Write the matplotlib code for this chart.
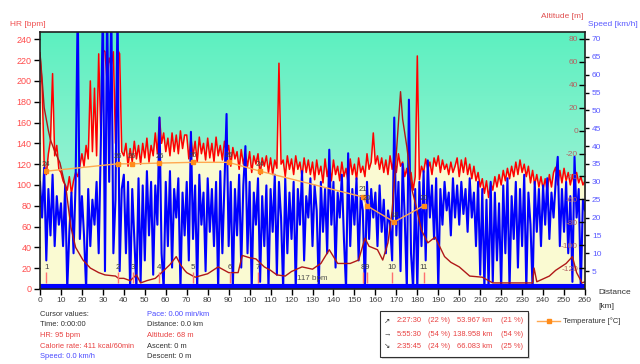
import numpy as np
import matplotlib.pyplot as plt
from matplotlib.colors import LinearSegmentedColormap
from matplotlib.lines import Line2D
from matplotlib.patches import Rectangle

plt.rcParams['font.family'] = ['Liberation Sans', 'DejaVu Sans']
plt.rcParams['axes.unicode_minus'] = False

# distance grid (km) for heart rate and speed samples
km = np.arange(0, 261)

hr = [225, 196, 120, 110, 130, 143, 207, 128, 138, 115,
      112, 104, 100, 95, 108, 92, 104, 112, 108, 118,
      130, 118, 138, 125, 200, 132, 193, 128, 226, 150,
      230, 228, 200, 222, 215, 228, 140, 230, 226, 132,
      128, 140, 118, 135, 122, 142, 125, 138, 120, 140,
      126, 145, 122, 138, 128, 150, 130, 165, 140, 150,
      132, 145, 128, 150, 132, 148, 130, 152, 135, 148,
      148, 125, 145, 128, 142, 122, 146, 130, 140, 124,
      145, 126, 140, 122, 146, 128, 138, 124, 142, 130,
      138, 118, 136, 125, 132, 115, 134, 120, 130, 118,
      132, 112, 128, 120, 130, 110, 126, 118, 128, 112,
      126, 110, 124, 116, 217, 120, 124, 108, 128, 115,
      125, 110, 128, 115, 122, 108, 126, 112, 124, 110,
      122, 105, 124, 110, 118, 102, 125, 108, 120, 104,
      124, 110, 118, 104, 122, 108, 116, 102, 125, 110,
      120, 105, 126, 112, 118, 108, 130, 115, 122, 150,
      120, 128, 115, 126, 112, 124, 110, 128, 115, 126,
      112, 130, 118, 122, 108, 116, 100, 112, 95, 108,
      224, 105, 118, 112, 125, 115, 122, 110, 126, 118,
      128, 112, 124, 115, 120, 110, 122, 112, 118, 126,
      108, 124, 112, 126, 110, 120, 106, 118, 104, 112,
      98, 106, 92, 104, 88, 102, 95, 108, 98, 110,
      100, 114, 104, 116, 106, 118, 108, 122, 110, 124,
      112, 120, 108, 118, 102, 114, 100, 110, 98, 108,
      96, 106, 94, 110, 98, 112, 117, 100, 114, 102,
      116, 104, 112, 100, 110, 98, 112, 102, 108, 100,
      104]

speed = [30, 20, 34, 8, 28, 15, 32, 12, 26, 18,
         24, 12, 29, 0, 16, 27, 10, 30, 80, 14,
         26, 15, 0, 28, 12, 25, 18, 30, 10, 40,
         80, 5, 80, 30, 80, 10, 25, 80, 5, 28,
         32, 10, 30, 0, 28, 14, 0, 31, 2, 29,
         8, 33, 15, 30, 4, 29, 18, 48, 10, 0,
         30, 12, 33, 6, 28, 20, 31, 0, 27, 15,
         30, 8, 44, 14, 29, 0, 32, 18, 27, 5,
         31, 16, 28, 12, 30, 0, 33, 10, 29, 49,
         12, 30, 0, 28, 15, 32, 6, 29, 40, 10,
         30, 0, 27, 18, 31, 2, 26, 12, 29, 0,
         28, 16, 32, 4, 30, 20, 0, 31, 10, 27,
         14, 30, 0, 28, 18, 33, 8, 26, 20, 31,
         12, 29, 22, 0, 30, 16, 28, 10, 39, 18,
         30, 6, 27, 20, 32, 14, 0, 38, 12, 28,
         18, 31, 8, 26, 22, 0, 30, 14, 28, 20,
         27, 12, 29, 16, 25, 10, 22, 18, 8, 48,
         15, 30, 5, 35, 20, 0, 53, 10, 0, 28,
         0, 30, 12, 33, 8, 36, 20, 29, 14, 31,
         0, 28, 18, 30, 22, 27, 15, 31, 20, 29,
         18, 30, 21, 28, 16, 31, 20, 27, 12, 30,
         4, 28, 0, 25, 0, 30, 2, 27, 8, 24,
         0, 29, 10, 31, 0, 26, 14, 30, 6, 28,
         12, 32, 0, 27, 18, 0, 30, 16, 28, 12,
         29, 18, 31, 14, 27, 20, 30, 37, 12, 28,
         16, 30, 10, 26, 2, 37, 20, 28, 0, 25,
         22]

alt_km = [0, 1, 2, 4, 5, 7, 9.5, 11, 12.5, 14.7,
          17, 20.5, 24, 28, 31, 36, 37.5, 40, 43, 46,
          48, 51, 55, 58, 62, 65, 67, 69, 70, 74,
          80, 85, 90, 94.5, 96.5, 100, 103, 107, 110, 113,
          117, 120, 125, 130, 134, 138, 142, 148, 152, 155,
          157, 161, 163.5, 166, 168, 170, 172, 173, 175, 177.5,
          179, 182, 185, 188.5, 193, 196, 200, 205, 211, 216,
          227, 235, 235.7, 237, 243, 246, 251, 254, 256, 258.6,
          260]
alt_m = [68, 45, 20, 0, -8, -18, -28, -40, -52, -84,
         -102, -113, -120, -124, -126, -127, -129, -129, -131, -126,
         -133, -131, -129, -124, -117, -110, -117, -122, -124, -128,
         -125, -119, -124, -124, -109, -111, -112, -119, -122, -126,
         -127, -123, -119, -121, -116, -104, -116, -116, -113, -94,
         -101, -104, -113, -98, -70, -20, 34, 10, -14, -52,
         -63, -87, -98, -93, -110, -115, -119, -127, -128, -133,
         -133, -133, -120, -132, -127, -122, -116, -110, -124, -133,
         -132]

temp_km = [3, 37, 44, 57, 73, 90, 105, 154, 156, 169, 183]
temp_c = [24.9, 25.9, 25.9, 26.0, 26.1, 26.1, 24.9, 21.4, 20.2, 18.0, 20.2]
temp_labels = ['24', '26', '26', '26', '26', '26', '24', '21', '20', '18', '20']

lap_km = [3, 37, 44.5, 57, 73, 90.5, 104, 154, 156, 168, 183]
lap_labels = ['1', '2', '3', '4', '5', '6', '7', '8', '9', '10', '11']

hr_ticks = list(range(0, 241, 20))
alt_ticks = list(range(-120, 81, 20))
speed_ticks = list(range(5, 71, 5))
dist_ticks = list(range(0, 261, 10))

RED = '#ff0000'
BLUE = '#0000ff'
DARK = '#303030'
TXT_RED = '#e84040'
TXT_BLUE = '#4848ff'

fig = plt.figure(figsize=(6.4, 3.64), dpi=100)
ax = fig.add_axes([40 / 640, 75 / 364, 545 / 640, 257 / 364])

# background gradient + yellow area under heart rate
grad = np.linspace(0, 1, 256).reshape(-1, 1)
bg = LinearSegmentedColormap.from_list('bg', ['#b8f4de', '#8ef2d0', '#5cf0c0'])
ax.imshow(grad, cmap=bg, extent=[0, 260, 0, 247], aspect='auto', origin='lower', zorder=0)
ax.fill_between(km, hr, 0, color='#fafad2', lw=0, zorder=1)
ax.plot(km, hr, color=RED, lw=1.1, zorder=2)
ax.set_xlim(0, 260)
ax.set_ylim(0, 247)
ax.set_xticks(dist_ticks)
ax.set_yticks(hr_ticks)
ax.tick_params(axis='x', length=4, width=1, pad=2, labelsize=6, labelcolor='#404040')
ax.tick_params(axis='y', length=4, width=1, pad=2, labelsize=6.5, labelcolor='#ff4c4c')
for sp in ax.spines.values():
    sp.set_visible(False)

# speed
ax_spd = ax.twinx()
ax_spd.plot(km, speed, color=BLUE, lw=1.5)
ax_spd.axhline(0, color=BLUE, lw=8)
ax_spd.set_xlim(0, 260)
ax_spd.set_ylim(0, 71.95)
ax_spd.set_yticks(speed_ticks)
ax_spd.tick_params(axis='y', length=3, width=1, pad=2, labelsize=6, labelcolor='#5a5aff')
for sp in ax_spd.spines.values():
    sp.set_visible(False)

# altitude, labels sit inside the plot at the right edge
ax_alt = ax.twinx()
ax_alt.plot(alt_km, alt_m, color='#b01818', lw=1.0)
ax_alt.set_xlim(0, 260)
ax_alt.set_ylim(-138.3, 86.1)
ax_alt.spines['left'].set_position(('axes', 1.0))
ax_alt.yaxis.set_ticks_position('left')
ax_alt.set_yticks(alt_ticks)
ax_alt.tick_params(axis='y', direction='out', length=4, width=1, pad=1,
                   labelsize=6, labelcolor='#b46464')
for sp in ax_alt.spines.values():
    sp.set_visible(False)

# temperature + laps
ax_tmp = ax.twinx()
ax_tmp.set_xlim(0, 260)
ax_tmp.set_ylim(8.9, 43.8)
ax_tmp.set_yticks([])
ax_tmp.plot(temp_km, temp_c, color='#ffa850', lw=1.0, marker='s', ms=3,
            mfc='#ff8c1a', mec='#ff8c1a')
for k, t, lab in zip(temp_km, temp_c, temp_labels):
    ax_tmp.annotate(lab, (k, t), xytext=(0, 2.5), textcoords='offset points',
                    ha='center', va='bottom', fontsize=5.5, color='#404040')

tr = ax_tmp.get_xaxis_transform()
ax_tmp.vlines(lap_km, 0.025, 0.065, transform=tr, color='#ff7070', lw=1)
for k, lab in zip(lap_km, lap_labels):
    ax_tmp.text(k, 0.082, lab, transform=tr, ha='center', va='center',
                fontsize=5.8, color='#404040')
ax_tmp.text(122.5, 0.04, '117 bpm', transform=tr, ha='left', va='center',
            fontsize=5.8, color='#505050')
for sp in ax_tmp.spines.values():
    sp.set_linewidth(1.2)
    sp.set_color('#202020')

# axis titles
fig.text(10 / 640, 1 - 24 / 364, 'HR [bpm]', color='#f05050', fontsize=6, va='center')
fig.text(583 / 640, 1 - 16 / 364, 'Altitude [m]', color='#e05050', fontsize=6,
         va='center', ha='right')
fig.text(588 / 640, 1 - 24 / 364, 'Speed [km/h]', color='#5a5aff', fontsize=6, va='center')
fig.text(598 / 640, 1 - 293 / 364, 'Distance', color=DARK, fontsize=6, va='center')
fig.text(598 / 640, 1 - 306 / 364, '[km]', color=DARK, fontsize=6, va='center')

# cursor values
rows_y = [314, 325, 335.5, 346, 356.5]
col1 = [('Cursor values:', DARK), ('Time: 0:00:00', DARK), ('HR: 95 bpm', TXT_RED),
        ('Calorie rate: 411 kcal/60min', TXT_RED), ('Speed: 0.0 km/h', TXT_BLUE)]
col2 = [('Pace: 0.00 min/km', TXT_BLUE), ('Distance: 0.0 km', DARK),
        ('Altitude: 68 m', TXT_RED), ('Ascent: 0 m', DARK), ('Descent: 0 m', DARK)]
for y, (s, c) in zip(rows_y, col1):
    fig.text(40 / 640, 1 - y / 364, s, color=c, fontsize=5.4, va='center')
for y, (s, c) in zip(rows_y, col2):
    fig.text(147 / 640, 1 - y / 364, s, color=c, fontsize=5.4, va='center')

# climb / flat / descent summary box
arrows = ['\u2197', '\u2192', '\u2198']
times = ['2:27:30', '5:55:30', '2:35:45']
time_pct = ['(22 %)', '(54 %)', '(24 %)']
dists = ['53.967 km', '138.958 km', '66.083 km']
dist_pct = ['(21 %)', '(54 %)', '(25 %)']
fig.add_artist(Rectangle((382 / 640, 1 - 359 / 364), 148 / 640, 46 / 364,
                         transform=fig.transFigure, fc='#d8d8d8', ec='none'))
fig.add_artist(Rectangle((380 / 640, 1 - 357 / 364), 148 / 640, 46 / 364,
                         transform=fig.transFigure, fc='white', ec='#303030', lw=0.8))
for y, a, t, tp, d, dp in zip([321, 334, 347], arrows, times, time_pct, dists, dist_pct):
    yy = 1 - y / 364
    fig.text(387 / 640, yy, a, color=DARK, fontsize=5.4, va='center', ha='center')
    fig.text(397 / 640, yy, t, color=TXT_RED, fontsize=5.4, va='center')
    fig.text(428 / 640, yy, tp, color=TXT_RED, fontsize=5.4, va='center')
    fig.text(492 / 640, yy, d, color=TXT_RED, fontsize=5.4, va='center', ha='right')
    fig.text(501 / 640, yy, dp, color=TXT_RED, fontsize=5.4, va='center')

# legend for temperature
fig.add_artist(Line2D([537 / 640, 548.5 / 640, 560 / 640], [1 - 321 / 364] * 3,
                      transform=fig.transFigure, color='#ffa850', lw=1,
                      marker='s', ms=3, markevery=[1], mfc='#ff8c1a', mec='#ff8c1a'))
fig.text(563 / 640, 1 - 321 / 364, 'Temperature [\u00b0C]', color=DARK, fontsize=5.4,
         va='center')

fig.savefig('out.png', dpi=100)
